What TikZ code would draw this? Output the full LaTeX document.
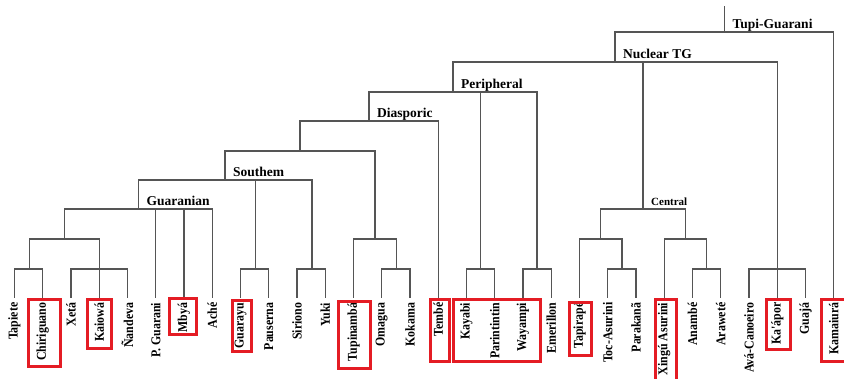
\documentclass[tikz,border=0pt]{standalone}
\usepackage{fontspec}
\setmainfont{Liberation Serif}
\newfontfamily\leaffont[FakeStretch=0.88]{Liberation Serif}
\usepackage{tikz}
\usepackage{xcolor}
\usetikzlibrary{positioning}

\definecolor{treegray}{RGB}{85,85,85}
\definecolor{hlred}{RGB}{228,28,36}

\tikzset{
    branch/.style={draw=treegray, line width=1.1pt},
    leaf/.style={rotate=90, anchor=east, inner xsep=4.5pt, inner ysep=1pt,
        font=\leaffont\bfseries\fontsize{13.5}{15}\selectfont},
    clade/.style={inner sep=0pt, text depth=0pt,
        font=\bfseries\fontsize{13.5}{16}\selectfont},
    hlbox/.style={draw=hlred, line width=3pt}
}

\begin{document}
\begin{tikzpicture}[x=1pt,y=-1pt]
    \useasboundingbox (0,0) rectangle (844,378);
    \clip (0,0) rectangle (844,378);

    % leaves
    \foreach \i/\nm/\lab in {0/tapiete/Tapiete, 1/chiriguano/Chiriguano, 2/xeta/Xetá,
        3/kaiowa/Kaiowá, 4/nandeva/Ñandeva, 5/pguarani/P. Guarani, 6/mbya/Mbyá,
        7/ache/Aché, 8/guarayu/Guarayu, 9/pauserna/Pauserna, 10/siriono/Siriono,
        11/yuki/Yuki, 12/tupinamba/Tupinambá, 13/omagua/Omagua, 14/kokama/Kokama,
        15/tembe/Tembé, 16/kayabi/Kayabi, 17/parintintin/Parintintin,
        18/wayampi/Wayampi, 19/emerillon/Emerillon, 20/tapirape/Tapirapé,
        21/tocasurini/Toc-Asurini, 22/parakana/Parakanã, 23/xingu/Xingú Asurini,
        24/anambe/Anambé, 25/arawete/Araweté, 26/avacanoeiro/Avá-Canoeiro,
        27/kaapor/Ka'ápor, 28/guaja/Guajá, 29/kamaiura/Kamaiurá}
    {
        \node[leaf] (\nm) at ({14.5+28.25*\i},298) {\lab};
    }

    % inner nodes
    \coordinate (tc) at (29.5,269);
    \coordinate (xkn) at (99.25,269);
    \coordinate (gp1) at (64.5,239);
    \coordinate (guaranian) at (138.5,209);
    \coordinate (gp) at (255.5,269);
    \coordinate (sy) at (312,269);
    \coordinate (southem) at (225,180);
    \coordinate (ok) at (396.5,269);
    \coordinate (tok) at (375,239);
    \coordinate (sdt) at (300,151);
    \coordinate (diasporic) at (369,121);
    \coordinate (kp) at (480.5,269);
    \coordinate (we) at (537,269);
    \coordinate (peripheral) at (453,92);
    \coordinate (tp) at (622,269);
    \coordinate (ttp) at (600.5,239);
    \coordinate (aa) at (706.5,269);
    \coordinate (xaa) at (685.5,239);
    \coordinate (central) at (643,209);
    \coordinate (akg) at (777.25,269);
    \coordinate (ntg) at (615,62);
    \coordinate (tg) at (724.5,32);
    \coordinate (top) at (724.5,6);

    % branches
    \foreach \p/\c in {tc/tapiete.east, tc/chiriguano.east,
        xkn/xeta.east, xkn/kaiowa.east, xkn/nandeva.east, gp1/tc, gp1/xkn,
        guaranian/gp1, guaranian/pguarani.east, guaranian/mbya.east, guaranian/ache.east,
        gp/guarayu.east, gp/pauserna.east, sy/siriono.east, sy/yuki.east,
        southem/guaranian, southem/gp, southem/sy,
        ok/omagua.east, ok/kokama.east, tok/tupinamba.east, tok/ok,
        sdt/southem, sdt/tok, diasporic/sdt, diasporic/tembe.east,
        kp/kayabi.east, kp/parintintin.east, we/wayampi.east, we/emerillon.east,
        peripheral/diasporic, peripheral/kp, peripheral/we,
        tp/tocasurini.east, tp/parakana.east, ttp/tapirape.east, ttp/tp,
        aa/anambe.east, aa/arawete.east, xaa/xingu.east, xaa/aa,
        central/ttp, central/xaa,
        akg/avacanoeiro.east, akg/kaapor.east, akg/guaja.east,
        ntg/peripheral, ntg/central, ntg/akg,
        tg/ntg, tg/kamaiura.east, tg/top}
    {
        \draw[branch] (\p) -| (\c);
    }

    % clade names
    \node[clade, above right=3pt and 8pt of tg] (tglab) {Tupi-Guarani};
    \node[clade, above right=3pt and 8pt of ntg] (ntglab) {Nuclear TG};
    \node[clade, above right=3pt and 8pt of peripheral] (perlab) {Peripheral};
    \node[clade, above right=3pt and 8pt of diasporic] (dialab) {Diasporic};
    \node[clade, above right=3pt and 8pt of southem] (soulab) {Southem};
    \node[clade, above right=3pt and 8pt of guaranian] (gualab) {Guaranian};
    \node[clade, font=\bfseries\fontsize{11}{13}\selectfont,
        above right=3pt and 8pt of central] (cenlab) {Central};

    % highlighted languages
    \foreach \xa/\ya/\xb/\yb in {28.5/299.5/60.5/366.5, 87.5/299.5/111.5/348.5,
        169.5/298.5/196.5/334.5, 232.5/300.5/251.5/351.5, 338.5/301.5/370.5/368.5,
        430.5/299.5/449.5/361.5, 453.5/299.5/540.5/361.5, 569.5/302.5/591.5/355.5,
        655.5/299.5/676.5/385, 766.5/299.5/790.5/349.5, 821.5/299.5/850/361.5}
    {
        \draw[hlbox] (\xa,\ya) rectangle (\xb,\yb);
    }
\end{tikzpicture}
\end{document}
